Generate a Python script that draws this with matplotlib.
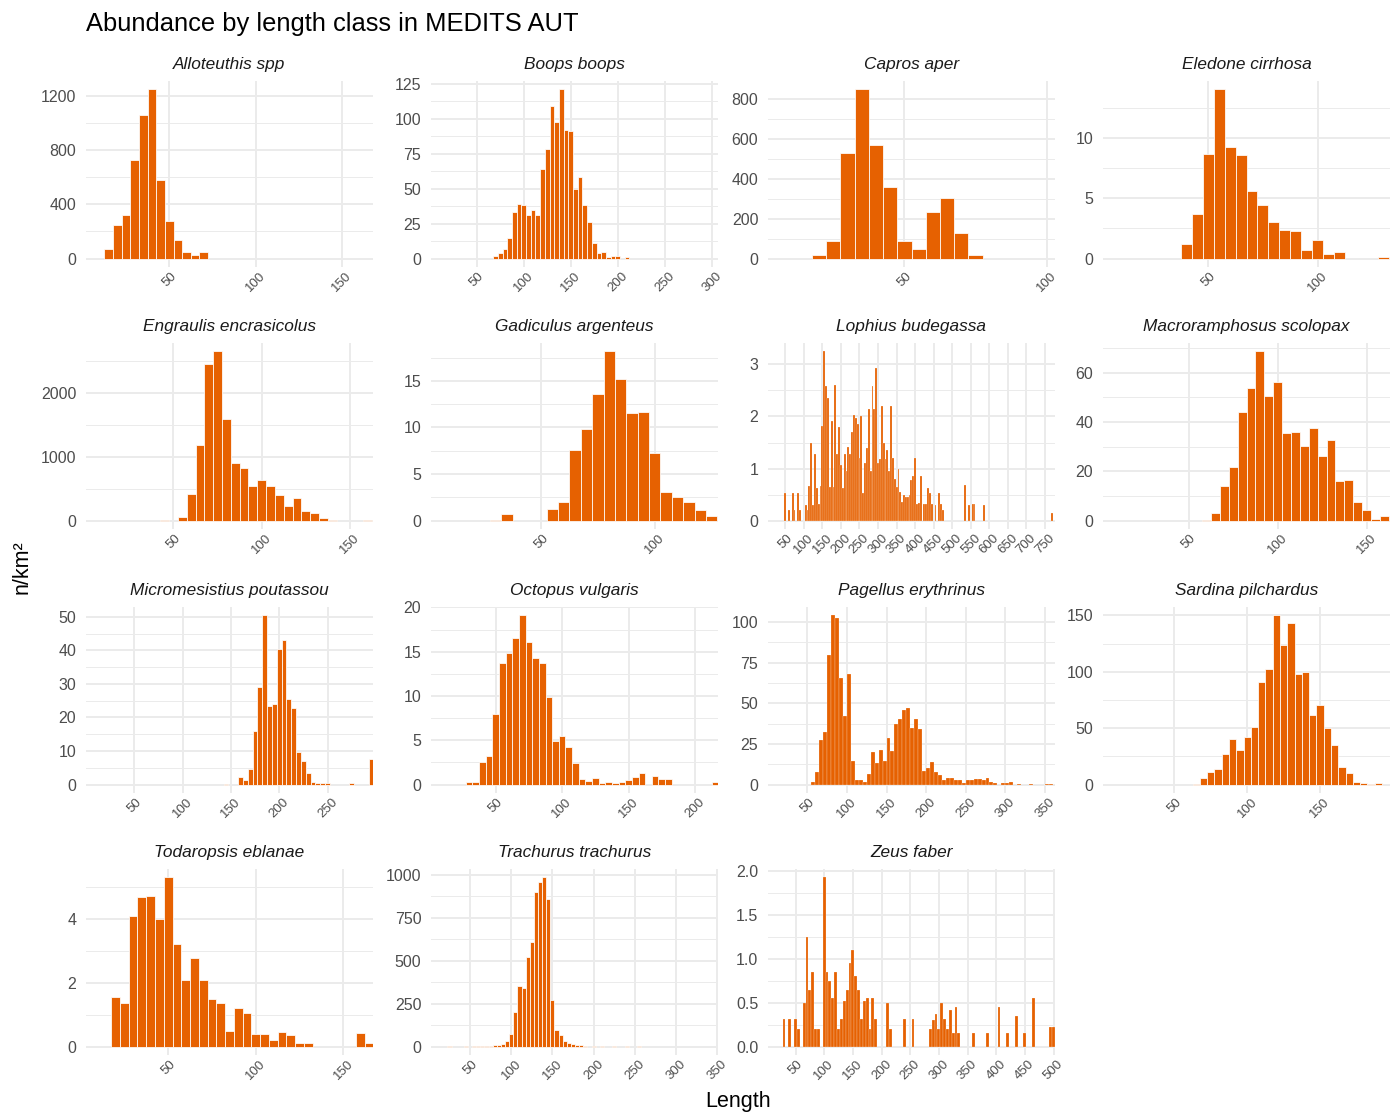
import matplotlib
matplotlib.use('Agg')
import matplotlib.pyplot as plt
from matplotlib.ticker import MultipleLocator, FormatStrFormatter

plt.rcParams['font.family'] = ['Liberation Sans', 'DejaVu Sans']

species = ['Alloteuthis spp', 'Boops boops', 'Capros aper', 'Eledone cirrhosa',
           'Engraulis encrasicolus', 'Gadiculus argenteus', 'Lophius budegassa',
           'Macroramphosus scolopax', 'Micromesistius poutassou', 'Octopus vulgaris',
           'Pagellus erythrinus', 'Sardina pilchardus', 'Todaropsis eblanae',
           'Trachurus trachurus', 'Zeus faber']

# length classes (mm) and abundance (n/km2) per species
alloteuthis_len = [15, 20, 25, 30, 35, 40, 45, 50, 55, 60, 65, 70]
alloteuthis_n = [67, 247, 321, 728, 1062, 1247, 580, 279, 136, 47, 25, 47]

boops_len = [70, 75, 80, 85, 90, 95, 100, 105, 110, 115, 120, 125, 130, 135, 140,
             145, 150, 155, 160, 165, 170, 175, 180, 185, 190, 195, 200, 210]
boops_n = [1.7, 4, 6.5, 15, 33, 39, 38, 31, 35, 31, 64, 78.6, 109, 98, 121,
           92, 91, 50, 58, 38, 26, 11, 4, 5, 1, 1.5, 1.5, 1]

capros_len = [20, 25, 30, 35, 40, 45, 50, 55, 60, 65, 70, 75]
capros_n = [17, 87, 528, 848, 567, 360, 87, 50, 233, 305, 129, 17]

eledone_len = [40, 45, 50, 55, 60, 65, 70, 75, 80, 85, 90, 95, 100, 105, 110, 130]
eledone_n = [1.22, 3.7, 8.67, 14.05, 9.3, 8.6, 5.64, 4.47, 3.0, 2.36, 2.28, 0.67,
             1.58, 0.36, 0.53, 0.11]

engraulis_len = [45, 55, 60, 65, 70, 75, 80, 85, 90, 95, 100, 105, 110, 115, 120,
                 125, 130, 135, 140, 160]
engraulis_n = [15, 58, 414, 1188, 2460, 2650, 1597, 906, 822, 534, 639, 539, 408,
               230, 351, 152, 115, 42, 15, 15]

gadiculus_len = [30, 35, 55, 60, 65, 70, 75, 80, 85, 90, 95, 100, 105, 110, 115, 120, 125]
gadiculus_n = [0.07, 0.68, 1.26, 1.97, 7.57, 9.83, 13.6, 18.16, 15.2, 11.5, 11.7,
               7.28, 3.05, 2.55, 1.97, 1.15, 0.47]

lophius_len = [50, 60, 70, 75, 85, 90, 105, 110, 115, 120, 125, 130, 135, 140, 145,
               150, 155, 160, 165, 170, 175, 180, 185, 190, 195, 200, 205, 210, 215,
               220, 225, 230, 235, 240, 245, 250, 255, 260, 265, 270, 275, 280, 285,
               290, 295, 300, 305, 310, 315, 320, 325, 330, 335, 340, 345, 350, 355,
               360, 365, 370, 375, 380, 385, 390, 395, 400, 405, 410, 415, 425, 430,
               435, 440, 445, 455, 465, 470, 475, 535, 545, 555, 560, 585, 770]
lophius_n = [0.52, 0.2, 0.52, 0.2, 0.52, 0.2, 0.3, 0.2, 0.67, 1.5, 0.3, 1.28, 0.63,
             0.32, 0.67, 1.82, 3.25, 2.58, 2.35, 0.65, 1.92, 0.65, 2.6, 1.28, 1.8,
             1.07, 0.63, 1.28, 0.95, 1.42, 1.28, 1.7, 2.02, 1.97, 1.85, 1.2, 2.0,
             0.53, 1.1, 1.4, 2.15, 0.95, 2.58, 2.15, 2.93, 1.1, 1.18, 2.2, 1.5,
             1.18, 1.35, 0.95, 2.2, 1.2, 0.8, 0.65, 1.0, 0.55, 0.35, 0.5, 0.45,
             0.45, 0.5, 0.78, 0.85, 1.2, 0.32, 0.33, 0.85, 0.32, 0.32, 0.63, 0.52,
             0.32, 0.3, 0.53, 0.32, 0.2, 0.68, 0.3, 0.32, 0.32, 0.3, 0.14]

macro_len = [60, 65, 70, 75, 80, 85, 90, 95, 100, 105, 110, 115, 120, 125, 130,
             135, 140, 145, 150, 155, 160]
macro_n = [0.27, 3.0, 14.1, 21.6, 44, 53.9, 68.7, 50.7, 56.2, 35.5, 36, 30.4, 37.6,
           26.2, 32.6, 15.9, 16.6, 7.6, 4.1, 0.7, 1.9]

micro_len = [145, 160, 165, 170, 175, 180, 185, 190, 195, 200, 205, 210, 215, 220,
             225, 230, 235, 240, 245, 250, 275, 295]
micro_n = [0.3, 2.2, 1.3, 4.7, 16, 29.2, 50.4, 23.5, 24, 40.3, 43.2, 25.5, 22.7,
           9.6, 7.0, 3.4, 0.9, 0.4, 0.4, 0.4, 0.4, 7.7]

octopus_len = [30, 35, 40, 45, 50, 55, 60, 65, 70, 75, 80, 85, 90, 95, 100, 105,
               110, 115, 120, 125, 130, 135, 140, 145, 150, 155, 160, 170, 175, 180, 215]
octopus_n = [0.3, 0.3, 2.58, 3.18, 8.0, 13.75, 14.85, 16.5, 19.1, 16.1, 14.35, 13.7,
             9.9, 4.9, 5.5, 4.25, 2.4, 0.65, 0.45, 0.75, 0.23, 0.34, 0.23, 0.34,
             0.53, 0.83, 1.29, 0.95, 0.65, 0.65, 0.34]

pagellus_len = [57.5, 62.5, 67.5, 72.5, 77.5, 82.5, 87.5, 92.5, 97.5, 102.5, 107.5,
                112.5, 117.5, 122.5, 127.5, 132.5, 137.5, 142.5, 147.5, 152.5, 157.5,
                162.5, 167.5, 172.5, 177.5, 182.5, 187.5, 192.5, 197.5, 202.5, 207.5,
                212.5, 217.5, 222.5, 227.5, 232.5, 237.5, 242.5, 247.5, 252.5, 257.5,
                262.5, 267.5, 272.5, 277.5, 282.5, 287.5, 297.5, 302.5, 307.5, 317.5,
                332.5, 352.5, 357.5]
pagellus_n = [1.6, 8, 27.4, 32.6, 79.8, 104, 102.5, 65.8, 42.3, 68, 14.4, 2.7, 2.7,
              1.6, 6.2, 20.2, 13, 21.2, 14.6, 28.5, 20.6, 37.5, 40.4, 45.8, 47, 34.8,
              40.4, 34.2, 8.2, 10.3, 14, 7.6, 6, 2.5, 4.3, 4.3, 2.7, 2.7, 0.8, 3.1,
              2.7, 3.5, 3.5, 2.9, 4.1, 1.6, 1.0, 0.8, 0.8, 1.4, 0.6, 0.6, 0.6, 0.6]

sardina_len = [65, 70, 75, 80, 85, 90, 95, 100, 105, 110, 115, 120, 125, 130, 135,
               140, 145, 150, 155, 160, 165, 170, 175, 180, 185, 190]
sardina_n = [0.9, 5.4, 11, 13.4, 27.4, 40.2, 30.4, 42.6, 50.9, 91, 102.7, 150, 124,
             143.5, 98.5, 99.4, 61.6, 70.8, 50, 35.1, 15.2, 10.1, 2.7, 1.8, 0.9, 1.8]

todaropsis_len = [20, 25, 30, 35, 40, 45, 50, 55, 60, 65, 70, 75, 80, 85, 90, 95,
                  100, 105, 110, 115, 120, 125, 130, 160, 165]
todaropsis_n = [1.55, 1.35, 4.1, 4.7, 4.72, 4.0, 5.3, 3.2, 2.1, 2.77, 2.1, 1.5, 1.35,
                0.5, 1.2, 1.05, 0.38, 0.38, 0.2, 0.45, 0.35, 0.12, 0.12, 0.42, 0.12]

trachurus_len = [25, 45, 55, 60, 65, 70, 75, 80, 85, 90, 95, 100, 105, 110, 115, 120,
                 125, 130, 135, 140, 145, 150, 155, 160, 165, 170, 175, 180, 185, 190,
                 200, 210, 225, 240, 255]
trachurus_n = [2, 3, 3, 4, 5, 6, 5, 8, 10, 15, 30, 75, 200, 350, 340, 520, 610, 900,
               960, 985, 860, 270, 95, 70, 35, 20, 12, 10, 8, 5, 3, 3, 2, 2, 2]

zeus_len = [30, 40, 50, 55, 65, 70, 75, 80, 85, 90, 100, 105, 110, 115, 120, 125,
            130, 135, 140, 145, 150, 155, 160, 165, 170, 175, 180, 185, 190, 210,
            215, 240, 255, 285, 290, 295, 300, 305, 310, 315, 320, 325, 330, 335,
            360, 385, 405, 420, 435, 450, 465, 495, 500]
zeus_n = [0.32, 0.32, 0.32, 0.2, 0.5, 1.25, 0.65, 0.85, 0.2, 0.2, 1.93, 0.85, 0.75,
          0.55, 0.85, 0.2, 0.32, 0.52, 0.65, 0.95, 1.1, 0.8, 0.65, 0.32, 0.52, 0.55,
          0.2, 0.55, 0.32, 0.5, 0.2, 0.32, 0.32, 0.2, 0.3, 0.37, 0.2, 0.5, 0.32,
          0.2, 0.42, 0.15, 0.45, 0.15, 0.15, 0.15, 0.45, 0.15, 0.35, 0.15, 0.55,
          0.22, 0.22]

lengths = [alloteuthis_len, boops_len, capros_len, eledone_len, engraulis_len,
           gadiculus_len, lophius_len, macro_len, micro_len, octopus_len,
           pagellus_len, sardina_len, todaropsis_len, trachurus_len, zeus_len]
abund = [alloteuthis_n, boops_n, capros_n, eledone_n, engraulis_n, gadiculus_n,
         lophius_n, macro_n, micro_n, octopus_n, pagellus_n, sardina_n,
         todaropsis_n, trachurus_n, zeus_n]

# free x scales of each facet
x_limits = [(1.8, 168), (1.4, 306.7), (2.1, 102.9), (2, 133), (0.5, 163),
            (1.6, 127.8), (3.4, 777), (1.8, 163.2), (0.2, 297), (1.3, 217.3),
            (0.4, 362.7), (1, 198), (3.1, 167), (2.6, 351), (2, 502.6)]
y_steps = [400, 25, 200, 5, 1000, 5, 1, 20, 10, 5, 25, 50, 2, 250, 0.5]

BAR = '#E66101'
GRID = '#EBEBEB'
TXT = '#4D4D4D'

W, H = 1399, 1112
col_x = [86, 431, 768, 1103]
row_top = [81, 343, 607, 869]
pw, ph = 287, 186
bin_w = 5

fig = plt.figure(figsize=(W / 100, H / 100), dpi=100)

for i, name in enumerate(species):
    r, c = divmod(i, 4)
    ax = fig.add_axes([col_x[c] / W, 1 - (row_top[r] + ph) / H, pw / W, ph / H])
    x0, x1 = x_limits[i]
    # thin outlines where the bars are only a couple of pixels wide
    bar_px = bin_w * pw / (x1 - x0)
    lw = 0.55 if bar_px > 4 else 0.15
    ax.bar(lengths[i], abund[i], width=bin_w, color=BAR, edgecolor='white', linewidth=lw)
    top = max(abund[i])
    ax.set_ylim(-0.05 * top, 1.05 * top)
    ax.set_xlim(x0, x1)
    ax.xaxis.set_major_locator(MultipleLocator(50))
    ax.yaxis.set_major_locator(MultipleLocator(y_steps[i]))
    ax.yaxis.set_minor_locator(MultipleLocator(y_steps[i] / 2))
    if y_steps[i] < 1:
        ax.yaxis.set_major_formatter(FormatStrFormatter('%.1f'))
    else:
        ax.yaxis.set_major_formatter(FormatStrFormatter('%g'))
    ax.grid(which='major', color=GRID, linewidth=1.4)
    ax.grid(which='minor', axis='y', color=GRID, linewidth=0.7)
    ax.set_axisbelow(True)
    for s in ax.spines.values():
        s.set_visible(False)
    ax.tick_params(which='both', length=0)
    ax.tick_params(axis='x', labelsize=9.5, labelcolor=TXT, pad=2, labelrotation=45)
    ax.tick_params(axis='y', labelsize=11.5, labelcolor=TXT, pad=7)
    ax.text(0.5, 1 + 12 / ph, name, transform=ax.transAxes, ha='center',
            va='baseline', style='italic', fontsize=12.4, color='#1A1A1A')

fig.text(86 / W, 1 - 24 / H, 'Abundance by length class in MEDITS AUT',
         fontsize=18.4, ha='left', va='center', color='black')
fig.text(22 / W, 1 - 567 / H, 'n/km²', rotation=90, fontsize=15.5,
         ha='center', va='center', color='black')
fig.text(738 / W, 1 - 1101 / H, 'Length', fontsize=15.5, ha='center',
         va='center', color='black')

fig.savefig('out.png', dpi=100, facecolor='white')
